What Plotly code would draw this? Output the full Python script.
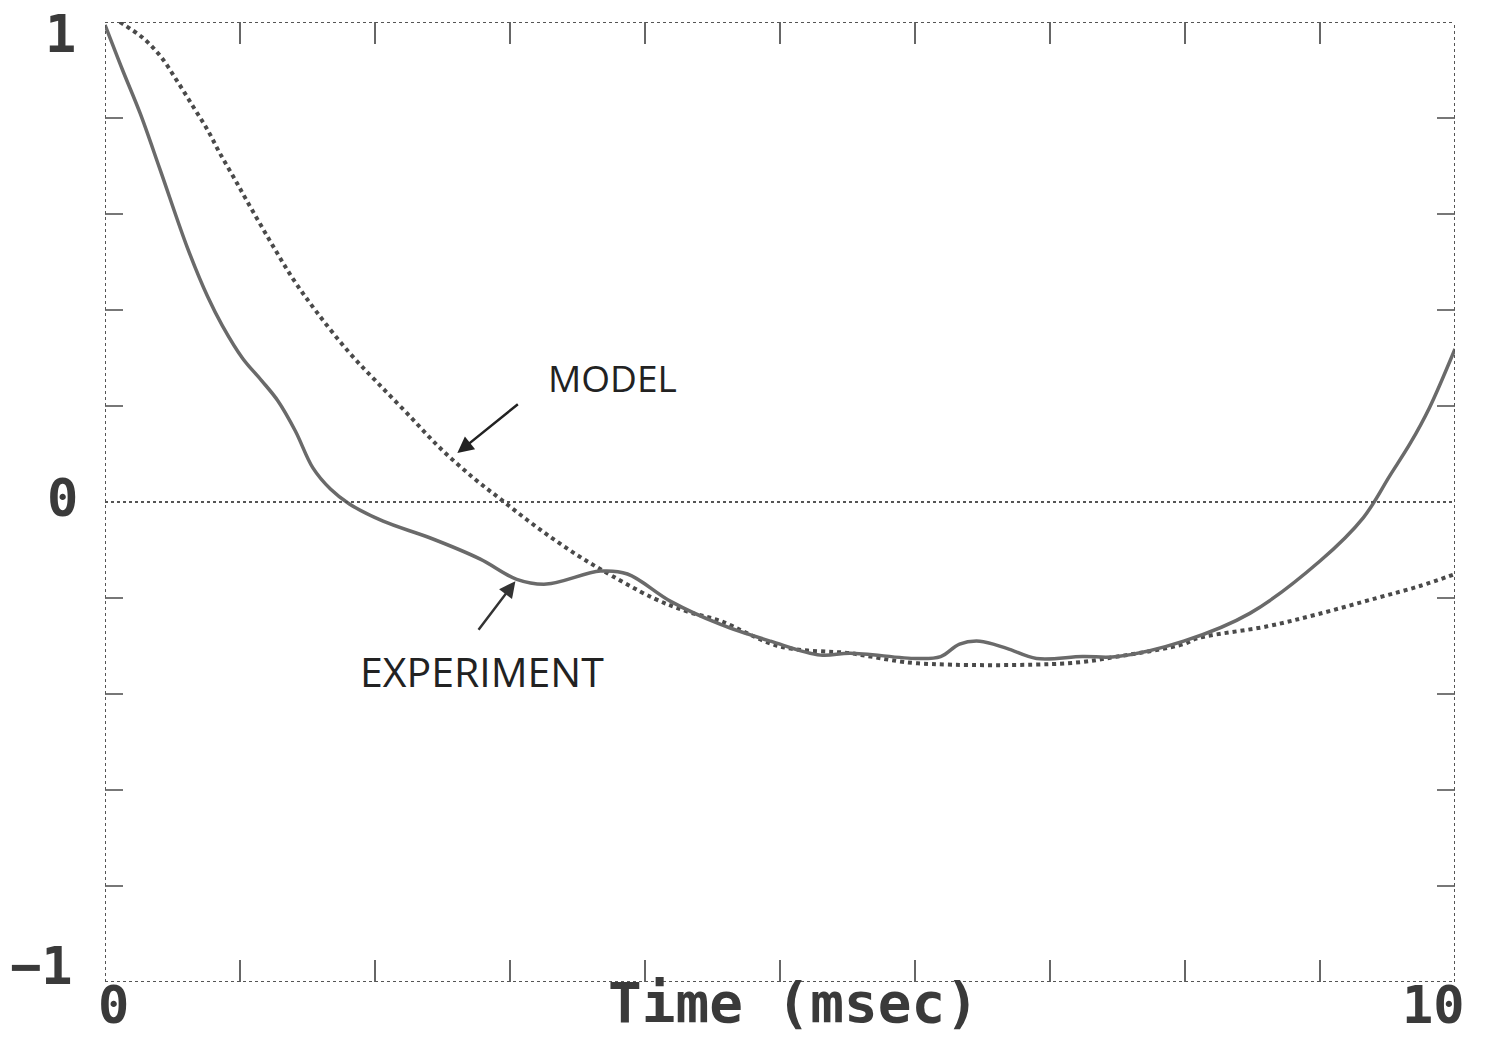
import plotly.graph_objects as go

# Model response (normalized) vs. time in msec
model_t = [0.11, 0.28, 0.41, 0.53, 0.65, 0.76, 0.85, 0.95, 1.05, 1.22, 1.39, 1.57, 1.81,
           2.01, 2.24, 2.48, 2.73, 2.93, 3.13, 3.32, 3.50, 3.67, 4.06, 4.31, 4.56, 5.00,
           5.52, 5.67, 6.02, 7.13, 7.50, 7.99, 8.09, 8.61, 8.98, 9.42, 9.74, 10.0]
model_v = [1.0, 0.967, 0.929, 0.879, 0.825, 0.775, 0.727, 0.678, 0.628, 0.545, 0.466,
           0.395, 0.311, 0.251, 0.184, 0.113, 0.050, 0.006, -0.038, -0.077, -0.111,
           -0.140, -0.200, -0.228, -0.248, -0.301, -0.315, -0.322, -0.336, -0.336,
           -0.322, -0.296, -0.284, -0.259, -0.234, -0.200, -0.175, -0.150]

# Measured response
exp_t = [0.0, 0.13, 0.26, 0.41, 0.61, 0.76, 0.87, 1.02, 1.16, 1.28, 1.41, 1.54, 1.67,
         1.81, 2.06, 2.41, 2.78, 3.05, 3.27, 3.67, 3.87, 4.19, 4.56, 4.93, 5.30, 5.52,
         6.01, 6.19, 6.33, 6.48, 6.68, 6.90, 7.24, 7.50, 7.99, 8.48, 9.00, 9.32, 9.52,
         9.67, 9.81, 10.0]
exp_v = [0.994, 0.900, 0.810, 0.691, 0.530, 0.428, 0.367, 0.299, 0.253, 0.211, 0.148,
         0.071, 0.027, -0.004, -0.040, -0.075, -0.119, -0.161, -0.171, -0.144, -0.150,
         -0.207, -0.255, -0.290, -0.319, -0.315, -0.326, -0.322, -0.296, -0.290, -0.305,
         -0.326, -0.322, -0.322, -0.290, -0.232, -0.123, -0.033, 0.056, 0.123, 0.196, 0.319]

x_ticks = list(range(0, 11))
y_ticks = [-0.8, -0.6, -0.4, -0.2, 0.2, 0.4, 0.6, 0.8]

INK = "#3a3a3a"
PIX_FONT = "DejaVu Sans Mono"
HAND_FONT = "Open Sans"

fig = go.Figure()

fig.add_trace(go.Scatter(
    x=model_t, y=model_v, mode="lines",
    line=dict(color="#4a4a4a", width=4, dash="dot", shape="spline", smoothing=1.0),
    showlegend=False,
))
fig.add_trace(go.Scatter(
    x=exp_t, y=exp_v, mode="lines",
    line=dict(color="#6a6a6a", width=3.5, shape="spline", smoothing=1.0),
    showlegend=False,
))

# dotted frame and zero line
frame = dict(color="#555555", width=2, dash="dot")
shapes = [
    dict(type="line", xref="x", yref="y", x0=0, x1=10, y0=1, y1=1, line=frame),
    dict(type="line", xref="x", yref="y", x0=0, x1=10, y0=-1, y1=-1, line=frame),
    dict(type="line", xref="x", yref="y", x0=0, x1=0, y0=-1, y1=1, line=frame),
    dict(type="line", xref="x", yref="y", x0=10, x1=10, y0=-1, y1=1, line=frame),
    dict(type="line", xref="x", yref="y", x0=0, x1=10, y0=0, y1=0, line=frame),
]

digit_font = dict(family=PIX_FONT, size=52, color=INK)
annotations = [
    # axis labels
    dict(text="<b>1</b>", x=0, y=1, xref="x", yref="y", xshift=-45, yshift=20,
         yanchor="top", showarrow=False, font=digit_font),
    dict(text="<b>0</b>", x=0, y=0, xref="x", yref="y", xshift=-43, yshift=4,
         showarrow=False, font=digit_font),
    dict(text="<b>\u22121</b>", x=0, y=-1, xref="x", yref="y", xshift=-64, yshift=16,
         showarrow=False, font=digit_font),
    dict(text="<b>0</b>", x=0, y=-1, xref="x", yref="y", xshift=8, yshift=-55,
         yanchor="bottom", showarrow=False, font=digit_font),
    dict(text="<b>10</b>", x=10, y=-1, xref="x", yref="y", xshift=-22, yshift=-55,
         yanchor="bottom", showarrow=False, font=digit_font),
    dict(text="<b>Time (msec)</b>", x=5.1, y=-1, xref="x", yref="y", yshift=-55,
         yanchor="bottom", showarrow=False, font=dict(family=PIX_FONT, size=56, color=INK)),
    # hand-written notes
    dict(text="MODEL", x=3.76, y=0.259, xref="x", yref="y", showarrow=False,
         font=dict(family=HAND_FONT, size=37, color="#222222")),
    dict(text="EXPERIMENT", x=2.79, y=-0.353, xref="x", yref="y", showarrow=False,
         font=dict(family=HAND_FONT, size=41, color="#222222")),
    dict(text="", x=2.61, y=0.102, xref="x", yref="y", ax=62, ay=-50,
         showarrow=True, arrowhead=2, arrowsize=1.3, arrowwidth=2.5, arrowcolor="#222222"),
    dict(text="", x=3.04, y=-0.165, xref="x", yref="y", ax=-38, ay=50,
         showarrow=True, arrowhead=2, arrowsize=1.3, arrowwidth=2.5, arrowcolor="#333333"),
]

fig.update_layout(
    width=1487, height=1038,
    margin=dict(l=105, r=32, t=22, b=56),
    paper_bgcolor="white", plot_bgcolor="white",
    shapes=shapes, annotations=annotations,
    xaxis=dict(range=[0, 10], tickvals=x_ticks, ticks="inside", ticklen=22,
               tickwidth=2, tickcolor="#666666", mirror="ticks", showline=False,
               showgrid=False, zeroline=False, showticklabels=False),
    yaxis=dict(range=[-1, 1], tickvals=y_ticks, ticks="inside", ticklen=18,
               tickwidth=2, tickcolor="#777777", mirror="ticks", showline=False,
               showgrid=False, zeroline=False, showticklabels=False),
)

fig.write_html("out.html")
